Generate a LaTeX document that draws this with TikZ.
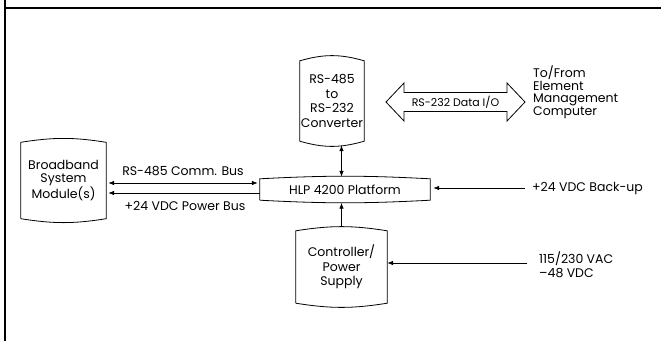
\documentclass[tikz,border=0pt]{standalone}
\usepackage{fontspec}
\setmainfont{Poppins}
\usetikzlibrary{arrows.meta,calc}
\begin{document}
\begin{tikzpicture}[x=1pt,y=-1pt,
  boxline/.style={line width=0.8pt},
  txt/.style={font=\fontsize{12.5}{14.7}\selectfont, inner sep=0pt, align=center},
  side/.style={font=\fontsize{12.5}{12.5}\selectfont, inner sep=0pt, align=left, anchor=west},
  conn/.style={line width=0.7pt, -{Latex[length=6pt,width=4.5pt]}},
  dconn/.style={line width=0.7pt, {Latex[length=6pt,width=4.5pt]}-{Latex[length=6pt,width=4.5pt]}},
  frame/.style={line width=1.8pt}
  ]
\newcommand\bulgeoutline[2]{\draw[boxline] (#1.south west) -- (#1.north west) to[bend left=#2] (#1.north east) -- (#1.south east) to[bend left=#2] (#1.south west);}
\useasboundingbox (0,0) rectangle (661,341);
\coordinate (ftop) at (5,0);
\coordinate (fbot) at (5,341);
\coordinate (fright) at (661,8);
\draw[frame] (ftop) -- (fbot);
\draw[frame] (ftop |- fright) -- (fright);

% blocks
\node[txt, minimum width=64pt, minimum height=80pt] (conv) at (332,101) {RS-485\\to\\RS-232\\Converter};
\node[txt, minimum width=85pt, minimum height=76pt, font=\fontsize{12.5}{13.5}\selectfont] (bb) at (63.5,180.5) {Broadband\\System\\Module(s)};
\node[txt, minimum width=170pt, minimum height=21pt] (hlp) at (345,189.5) {HLP 4200 Platform};
\node[txt, minimum width=91pt, minimum height=72pt] (ctrl) at (341.5,267) {Controller/\\Power\\Supply};
\bulgeoutline{conv}{16}
\bulgeoutline{bb}{9}
\bulgeoutline{hlp}{3}
\bulgeoutline{ctrl}{9}

% double arrow RS-232 Data I/O
\node[font=\fontsize{11}{13}\selectfont, inner sep=0pt] (dio) at (455.5,102) {RS-232 Data I/O};
\draw[boxline] ($(dio)+(-69.5,0)$) -- ($(dio)+(-51.5,-19)$) -- ($(dio)+(-51.5,-9.5)$) -- ($(dio)+(51.5,-9.5)$) -- ($(dio)+(51.5,-19)$) -- ($(dio)+(69.5,0)$) -- ($(dio)+(51.5,19)$) -- ($(dio)+(51.5,9.5)$) -- ($(dio)+(-51.5,9.5)$) -- ($(dio)+(-51.5,19)$) -- cycle;
\node[side] (emc) at (533,92) {To/From\\Element\\Management\\Computer};

% vertical connectors
\draw[dconn] ($(conv.south -| ctrl.north)+(0,4)$) -- ($(hlp.north -| ctrl.north)+(0,-2)$);
\draw[conn] ($(ctrl.north)+(0,-4)$) -- ($(hlp.south -| ctrl.north)+(0,2.5)$);

% left buses
\draw[dconn] ($(bb.east |- 0,183)+(2,0)$) -- ($(hlp.west |- 0,183)+(-2,0)$);
\draw[conn] (hlp.west |- 0,193) -- ($(bb.east |- 0,193)+(2,0)$);
\node[txt] (rs485) at (183,171) {RS-485 Comm. Bus};
\node[txt] (pbus) at (185,206) {+24 VDC Power Bus};

% right inputs
\coordinate (bkin) at (525,188);
\draw[conn] (bkin) -- ($(bkin -| hlp.east)+(3,0)$);
\node[side, font=\fontsize{12.5}{14}\selectfont] (bklbl) at (532,188) {+24 VDC Back-up};
\coordinate (acin) at (527,263);
\draw[conn] (acin) -- (acin -| ctrl.east);
\node[side, font=\fontsize{12.5}{14}\selectfont] (aclbl) at (539,265) {115/230 VAC\\–48 VDC};
\end{tikzpicture}
\end{document}
